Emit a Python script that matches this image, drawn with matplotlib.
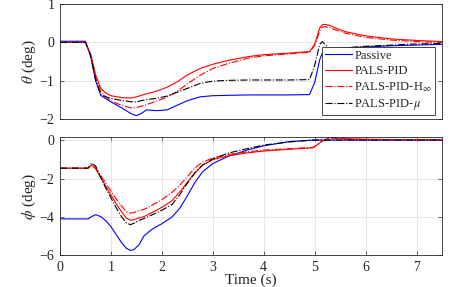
import matplotlib
matplotlib.use('Agg')
import matplotlib.pyplot as plt

# DATA
# top panel: pitch angle theta (deg)
tTheta = [0, 0.5, 0.6, 0.7, 0.8, 0.9, 1.0, 1.2, 1.4, 1.5, 1.6, 1.7, 1.9, 2.1, 2.3, 2.5, 2.75, 3.0, 3.3,
          3.7, 4.0, 4.5, 4.9, 5.0, 5.1, 5.15, 5.2, 5.3, 5.4, 5.6, 6.0, 6.5, 7.0, 7.5]
thetaPassive = [0.03, 0.03, -0.35, -1.0, -1.38, -1.47, -1.55, -1.7, -1.86, -1.91, -1.85, -1.76, -1.78, -1.76,
                -1.64, -1.52, -1.42, -1.39, -1.38, -1.37, -1.37, -1.37, -1.36, -1.05, -0.45, -0.28, -0.22,
                -0.19, -0.17, -0.15, -0.12, -0.09, -0.07, -0.05]
thetaPID = [0, 0, -0.3, -0.85, -1.2, -1.32, -1.39, -1.44, -1.45, -1.42, -1.38, -1.34, -1.27, -1.17, -1.03,
            -0.85, -0.68, -0.57, -0.47, -0.37, -0.32, -0.28, -0.24, -0.05, 0.38, 0.46, 0.47, 0.44, 0.38,
            0.28, 0.17, 0.09, 0.05, 0.02]
thetaHinf = [0, 0, -0.32, -0.9, -1.28, -1.42, -1.52, -1.64, -1.71, -1.7, -1.66, -1.62, -1.53, -1.43, -1.28,
             -1.08, -0.86, -0.68, -0.55, -0.41, -0.35, -0.3, -0.26, -0.08, 0.3, 0.4, 0.41, 0.38, 0.33,
             0.24, 0.13, 0.06, 0.02, 0.0]
thetaMu = [0, 0, -0.35, -0.98, -1.36, -1.42, -1.46, -1.51, -1.55, -1.55, -1.52, -1.49, -1.46, -1.4, -1.3,
           -1.2, -1.07, -1.01, -0.99, -0.98, -0.98, -0.98, -0.97, -0.6, -0.05, 0.02, -0.05, -0.17, -0.18,
           -0.14, -0.1, -0.07, -0.04, -0.03]

# bottom panel: roll angle phi (deg)
tPhi = [0, 0.55, 0.62, 0.7, 0.8, 0.9, 1.0, 1.1, 1.2, 1.3, 1.38, 1.45, 1.55, 1.65, 1.8, 2.0, 2.2, 2.35,
        2.5, 2.65, 2.8, 3.0, 3.3, 3.7, 4.0, 4.5, 4.97, 5.15, 5.3, 5.6, 6.0, 7.0, 7.5]
phiPassive = [-4.1, -4.1, -3.98, -3.88, -3.98, -4.2, -4.5, -4.9, -5.3, -5.62, -5.74, -5.7, -5.45, -4.98,
              -4.65, -4.35, -4.0, -3.55, -2.9, -2.2, -1.65, -1.22, -0.85, -0.5, -0.3, -0.08, 0.0, 0.0,
              0.0, 0.0, 0.0, 0.0, 0.0]
phiPID = [-1.46, -1.46, -1.3, -1.5, -1.95, -2.4, -2.85, -3.3, -3.7, -4.05, -4.17, -4.14, -4.05, -3.98,
          -3.78, -3.5, -3.15, -2.7, -2.2, -1.7, -1.3, -1.02, -0.82, -0.66, -0.57, -0.48, -0.4, -0.05,
          0.15, 0.07, 0.04, 0.02, 0.02]
phiHinf = [-1.46, -1.46, -1.3, -1.45, -1.85, -2.25, -2.65, -3.05, -3.4, -3.72, -3.8, -3.77, -3.68, -3.6,
           -3.4, -3.1, -2.72, -2.35, -1.9, -1.45, -1.15, -0.93, -0.75, -0.6, -0.52, -0.45, -0.38, -0.05,
           0.1, 0.05, 0.03, 0.02, 0.02]
phiMu = [-1.46, -1.46, -1.2, -1.35, -1.95, -2.5, -3.0, -3.5, -3.95, -4.3, -4.4, -4.33, -4.18, -4.08,
         -3.9, -3.65, -3.35, -2.85, -2.25, -1.7, -1.3, -0.98, -0.68, -0.43, -0.26, -0.1, 0.0, 0.0,
         0.0, 0.0, 0.0, 0.0, 0.0]

labels = ['Passive', 'PALS-PID', 'PALS-PID-H$_\\infty$', 'PALS-PID-$\\mu$']
xTicks = [0, 1, 2, 3, 4, 5, 6, 7]

# STYLE
plt.rcParams['font.family'] = ['Liberation Serif', 'DejaVu Serif']
plt.rcParams['mathtext.fontset'] = 'stix'
plt.rcParams['font.size'] = 10
axisColor = '#262626'
styles = [('b', '-'), ('r', '-'), ('r', '-.'), ('k', '-.')]

fig = plt.figure(figsize=(4.58, 2.87), dpi=100)
axTop = fig.add_axes([0.131, 0.585, 0.834, 0.401])
axBot = fig.add_axes([0.131, 0.110, 0.834, 0.412])


def style_axes(ax):
    for spine in ax.spines.values():
        spine.set_color(axisColor)
        spine.set_linewidth(0.6)
    ax.tick_params(direction='in', top=True, right=True, length=3, width=0.5,
                   colors=axisColor, labelsize=10, pad=4)
    ax.grid(True, color='#e3e3e3', linewidth=0.6)
    ax.set_axisbelow(True)


# TOP PANEL
for y, (c, ls), lab in zip([thetaPassive, thetaPID, thetaHinf, thetaMu], styles, labels):
    axTop.plot(tTheta, y, color=c, linestyle=ls, linewidth=0.8, label=lab)
axTop.set_xlim(0, 7.5)
axTop.set_ylim(-2, 1)
axTop.set_yticks([-2, -1, 0, 1])
axTop.set_xticks([])
style_axes(axTop)
axTop.set_ylabel('$\\theta$ (deg)', color=axisColor, labelpad=1, fontsize=11)
leg = axTop.legend(loc='lower right', fontsize=9, fancybox=False, framealpha=1,
                   edgecolor=axisColor, handlelength=2.1, borderpad=0.25, labelspacing=0.25,
                   handletextpad=0.2, borderaxespad=0, bbox_to_anchor=(0.982, 0.035))
leg.get_frame().set_linewidth(0.6)
for txt in leg.get_texts():
    txt.set_color(axisColor)

# BOTTOM PANEL
for y, (c, ls) in zip([phiPassive, phiPID, phiHinf, phiMu], styles):
    axBot.plot(tPhi, y, color=c, linestyle=ls, linewidth=0.8)
axBot.set_xlim(0, 7.5)
axBot.set_ylim(-6, 0.15)
axBot.set_yticks([-6, -4, -2, 0])
axBot.set_xticks(xTicks)
style_axes(axBot)
axBot.set_ylabel('$\\phi$ (deg)', color=axisColor, labelpad=1, fontsize=11)
axBot.set_xlabel('Time (s)', color=axisColor, labelpad=0, fontsize=11)

fig.savefig('out.png', dpi=100)
